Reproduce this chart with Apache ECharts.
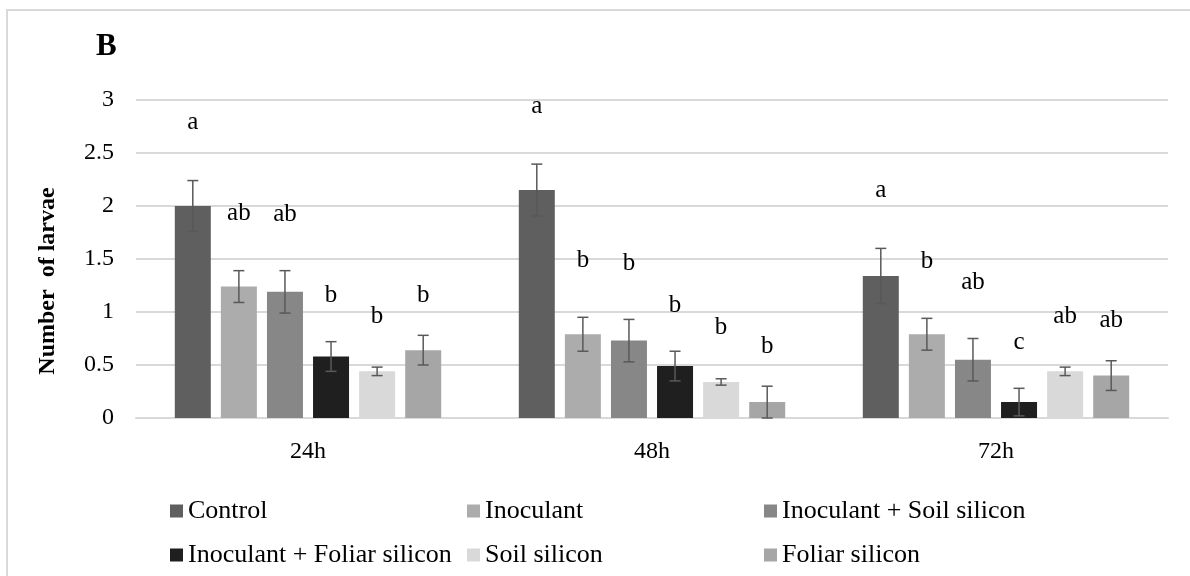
<!DOCTYPE html>
<html>
<head>
<meta charset="utf-8">
<title>Number of larvae</title>
<script src="https://cdn.jsdelivr.net/npm/echarts@6/dist/echarts.min.js"></script>
<style>
    html, body { margin: 0; padding: 0; background: #fff; }
    #chart { width: 1190px; height: 576px; }
</style>
</head>
<body>
<div id="chart"></div>
<script>
var categories = ['24h', '48h', '72h'];
var treatments = ['Control', 'Inoculant', 'Inoculant + Soil silicon',
                  'Inoculant + Foliar silicon', 'Soil silicon', 'Foliar silicon'];

// mean values per time
var control    = [2.00, 2.15, 1.34];
var inoculant  = [1.24, 0.79, 0.79];
var inocSoil   = [1.19, 0.73, 0.55];
var inocFoliar = [0.58, 0.49, 0.15];
var soilSi     = [0.44, 0.34, 0.44];
var foliarSi   = [0.64, 0.15, 0.40];

// standard errors
var controlErr    = [0.24, 0.245, 0.26];
var inoculantErr  = [0.15, 0.16, 0.15];
var inocSoilErr   = [0.20, 0.20, 0.20];
var inocFoliarErr = [0.14, 0.14, 0.13];
var soilSiErr     = [0.04, 0.03, 0.04];
var foliarSiErr   = [0.14, 0.15, 0.14];

// significance letters
var controlLetters    = ['a', 'a', 'a'];
var inoculantLetters  = ['ab', 'b', 'b'];
var inocSoilLetters   = ['ab', 'b', 'ab'];
var inocFoliarLetters = ['b', 'b', 'c'];
var soilSiLetters     = ['b', 'b', 'ab'];
var foliarSiLetters   = ['b', 'b', 'ab'];

var means   = [control, inoculant, inocSoil, inocFoliar, soilSi, foliarSi];
var errors  = [controlErr, inoculantErr, inocSoilErr, inocFoliarErr, soilSiErr, foliarSiErr];
var letters = [controlLetters, inoculantLetters, inocSoilLetters, inocFoliarLetters, soilSiLetters, foliarSiLetters];

var colors = ['#5f5f5f', '#acacac', '#878787', '#1f1f1f', '#d9d9d9', '#a6a6a6'];
var letterGap = [58, 57, 56, 46, 51, 40];   // px between error cap and letter
var FONT = '"Liberation Serif", "Times New Roman", serif';
var BAR_W = 36;
var BAR_GAP = 0.28;

function errorRenderer(i) {
    var pitch = BAR_W * (1 + BAR_GAP);
    return function (params, api) {
        var cat = api.value(0);
        var v = api.value(1);
        var e = api.value(2);
        var x = api.coord([cat, 0])[0] + (i - (means.length - 1) / 2) * pitch;
        var yTop = api.coord([cat, v + e])[1];
        var yBot = api.coord([cat, Math.max(v - e, 0)])[1];
        var lineStyle = { stroke: '#595959', lineWidth: 1.5 };
        return {
            type: 'group',
            children: [
                { type: 'line', shape: { x1: x, y1: yTop, x2: x, y2: yBot }, style: lineStyle },
                { type: 'line', shape: { x1: x - 5.5, y1: yTop, x2: x + 5.5, y2: yTop }, style: lineStyle },
                { type: 'line', shape: { x1: x - 5.5, y1: yBot, x2: x + 5.5, y2: yBot }, style: lineStyle },
                {
                    type: 'text',
                    style: {
                        x: x, y: yTop - letterGap[i],
                        text: letters[i][params.dataIndex],
                        fill: '#000',
                        font: '25px ' + FONT,
                        align: 'center',
                        verticalAlign: 'middle'
                    }
                }
            ]
        };
    };
}

var series = [];
treatments.forEach(function (name, i) {
    series.push({
        name: name,
        type: 'bar',
        barWidth: BAR_W,
        barGap: (BAR_GAP * 100) + '%',
        itemStyle: { color: colors[i] },
        data: means[i]
    });
});
treatments.forEach(function (name, i) {
    series.push({
        name: 'err_' + i,
        type: 'custom',
        z: 5,
        renderItem: errorRenderer(i),
        data: means[i].map(function (v, k) { return [k, v, errors[i][k]]; })
    });
});

var option = {
    animation: false,
    title: {
        text: 'B',
        left: 91,
        top: 26,
        textStyle: { fontFamily: FONT, fontSize: 31, fontWeight: 'bold', color: '#000' }
    },
    graphic: [{
        type: 'rect',
        shape: { x: 7, y: 10, width: 1200, height: 600 },
        style: { fill: 'none', stroke: '#d9d9d9', lineWidth: 2 },
        silent: true
    }],
    legend: {
        data: treatments,
        icon: 'rect',
        left: 165,
        top: 484,
        width: 900,
        itemWidth: 13,
        itemHeight: 13,
        itemGap: 0,
        textStyle: { fontFamily: FONT, fontSize: 26, color: '#000', width: 279, lineHeight: 44 }
    },
    grid: { left: 136, right: 22, top: 100, bottom: 158 },
    xAxis: {
        type: 'category',
        data: categories,
        axisLine: { lineStyle: { color: '#d9d9d9', width: 2 } },
        axisTick: { show: false },
        axisLabel: { fontFamily: FONT, fontSize: 24, color: '#000', margin: 22 }
    },
    yAxis: {
        type: 'value',
        min: 0,
        max: 3,
        interval: 0.5,
        name: 'Number  of larvae',
        nameLocation: 'middle',
        nameGap: 76,
        nameTextStyle: { fontFamily: FONT, fontSize: 24, fontWeight: 'bold', color: '#000', padding: [0, 44, 0, 0] },
        axisLine: { show: false },
        axisTick: { show: false },
        splitLine: { lineStyle: { color: '#d9d9d9', width: 2 } },
        axisLabel: { fontFamily: FONT, fontSize: 24, color: '#000', margin: 22 }
    },
    series: series
};

var chart = echarts.init(document.getElementById('chart'));
chart.setOption(option);
</script>
</body>
</html>
